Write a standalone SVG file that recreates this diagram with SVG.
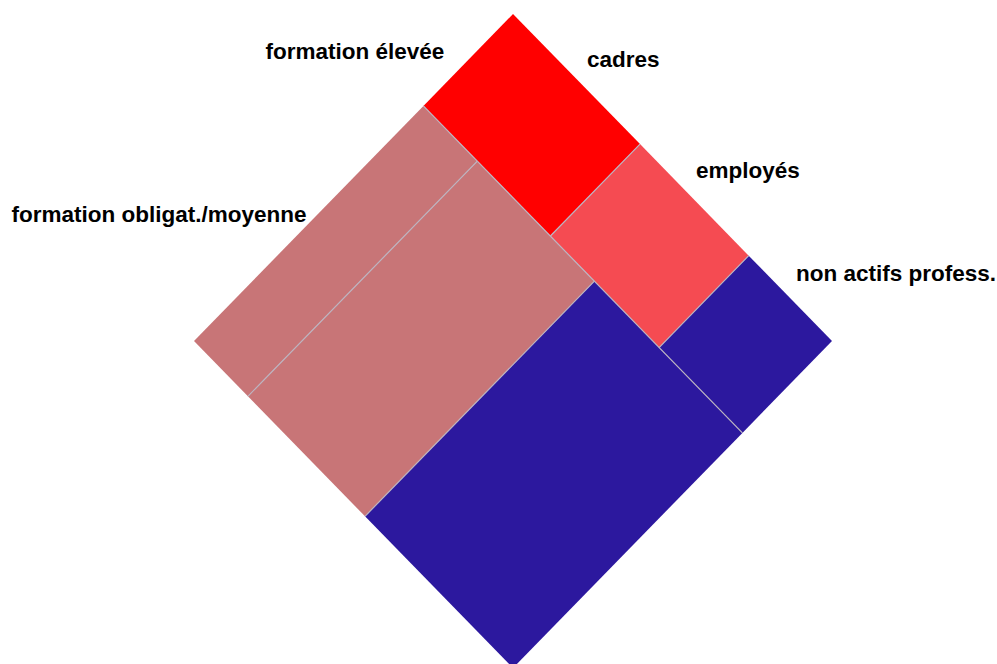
<svg xmlns="http://www.w3.org/2000/svg" width="997" height="664" viewBox="0 0 997 664">
  <style>
    .lbl { font-family: "Liberation Sans", Arial, sans-serif; font-weight: bold; font-size: 22.5px; fill: #000; }
    .sep { stroke: #bcb4c0; stroke-width: 1.2; fill: none; }
  </style>
  <rect width="997" height="664" fill="#ffffff"/>
  <g id="cadres-eleve">
    <polygon points="513,14 640,144.1 550.4,236 423.4,105.9" fill="#ff0000"/>
  </g>
  <g id="employes-eleve">
    <polygon points="640,144.1 748.7,255.7 659.1,347.6 550.4,236" fill="#f54b52"/>
  </g>
  <g id="nonactifs-eleve">
    <polygon points="748.7,255.7 832,341 742.4,432.9 659.1,347.6" fill="#2c189e"/>
  </g>
  <g id="obligat-a">
    <polygon points="423.4,105.9 477.3,161.2 247.9,396.3 194,341" fill="#c87577"/>
  </g>
  <g id="obligat-b">
    <polygon points="477.3,161.2 594.4,281.2 365,516.3 247.9,396.3" fill="#c87577"/>
  </g>
  <g id="obligat-c">
    <polygon points="594.4,281.2 742.4,432.9 513,668 365,516.3" fill="#2c189e"/>
  </g>
  <g id="separators">
    <line class="sep" x1="423.4" y1="105.9" x2="742.4" y2="432.9"/>
    <line class="sep" x1="640" y1="144.1" x2="550.4" y2="236"/>
    <line class="sep" x1="748.7" y1="255.7" x2="659.1" y2="347.6"/>
    <line class="sep" x1="477.3" y1="161.2" x2="247.9" y2="396.3"/>
    <line class="sep" x1="594.4" y1="281.2" x2="365" y2="516.3"/>
  </g>
  <g id="labels">
    <text class="lbl" x="265.5" y="59">formation élevée</text>
    <text class="lbl" x="587" y="67">cadres</text>
    <text class="lbl" x="696" y="178">employés</text>
    <text class="lbl" x="796" y="281">non actifs profess.</text>
    <text class="lbl" x="11.5" y="222">formation obligat./moyenne</text>
  </g>
</svg>
